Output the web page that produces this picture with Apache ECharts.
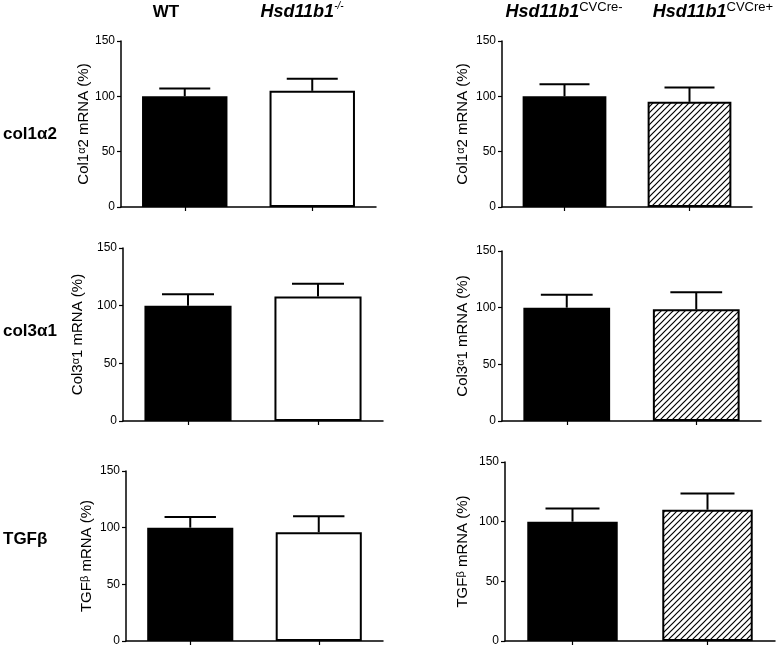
<!DOCTYPE html>
<html>
<head>
<meta charset="utf-8">
<script src="https://cdn.jsdelivr.net/npm/echarts@6/dist/echarts.min.js"></script>
<style>html,body{margin:0;padding:0;background:#fff}#c{width:778px;height:647px}</style>
</head>
<body>
<div id="c"></div>
<script>
// ---- data ----
const genes = ['col1α2', 'col3α1', 'TGFβ'];
const groupsKO = ['WT', 'Hsd11b1-/-'];
const groupsCV = ['Hsd11b1CVCre-', 'Hsd11b1CVCre+'];
const yTicks = [0, 50, 100, 150];

const col1a2KO_mean = [100, 105];
const col1a2KO_sem = [7, 11];
const col1a2CV_mean = [100, 95];
const col1a2CV_sem = [11, 13];

const col3a1KO_mean = [100, 108];
const col3a1KO_sem = [10, 11];
const col3a1CV_mean = [100, 98.5];
const col3a1CV_sem = [11.5, 15];

const tgfbKO_mean = [100, 96];
const tgfbKO_sem = [9.5, 14];
const tgfbCV_mean = [100, 110];
const tgfbCV_sem = [11, 13.5];

// ---- styling ----
const FONT = '"Liberation Sans", Arial, Helvetica, sans-serif';

function hatchCanvas() {
  const s = 6;
  const cv = document.createElement('canvas');
  cv.width = s; cv.height = s;
  const ctx = cv.getContext('2d');
  ctx.fillStyle = '#fff';
  ctx.fillRect(0, 0, s, s);
  ctx.strokeStyle = '#000';
  ctx.lineWidth = 1.2;
  ctx.beginPath();
  ctx.moveTo(-1, s + 1); ctx.lineTo(s + 1, -1);
  ctx.moveTo(-1, 1); ctx.lineTo(1, -1);
  ctx.moveTo(s - 1, s + 1); ctx.lineTo(s + 1, s - 1);
  ctx.stroke();
  return cv;
}
const hatch = { image: hatchCanvas(), repeat: 'repeat' };

const panels = [
  { mean: col1a2KO_mean, sem: col1a2KO_sem, cats: groupsKO, fills: ['#000', '#fff'],
    name: '{t|Col1}{g|α}{t|2 mRNA (%)}', grid: { left: 121, top: 41, width: 255, height: 166 }, gap: 30 },
  { mean: col1a2CV_mean, sem: col1a2CV_sem, cats: groupsCV, fills: ['#000', hatch],
    name: '{t|Col1}{g|α}{t|2 mRNA (%)}', grid: { left: 502, top: 41, width: 250, height: 166 }, gap: 32 },
  { mean: col3a1KO_mean, sem: col3a1KO_sem, cats: groupsKO, fills: ['#000', '#fff'],
    name: '{t|Col3}{g|α}{t|1 mRNA (%)}', grid: { left: 123, top: 248, width: 260, height: 173 }, gap: 38 },
  { mean: col3a1CV_mean, sem: col3a1CV_sem, cats: groupsCV, fills: ['#000', hatch],
    name: '{t|Col3}{g|α}{t|1 mRNA (%)}', grid: { left: 502, top: 251, width: 259, height: 170 }, gap: 32 },
  { mean: tgfbKO_mean, sem: tgfbKO_sem, cats: groupsKO, fills: ['#000', '#fff'],
    name: '{t|TGF}{g|β}{t| mRNA (%)}', grid: { left: 126, top: 471, width: 257, height: 170 }, gap: 32 },
  { mean: tgfbCV_mean, sem: tgfbCV_sem, cats: groupsCV, fills: ['#000', hatch],
    name: '{t|TGF}{g|β}{t| mRNA (%)}', grid: { left: 505, top: 462, width: 270, height: 179 }, gap: 35 }
];

const grids = [], xAxes = [], yAxes = [], series = [];

function renderErr(params, api) {
  const x = api.value(0), m = api.value(1), t = api.value(2);
  const p0 = api.coord([x, m]);
  const p1 = api.coord([x, t]);
  const half = api.size([1, 0])[0] * 0.2;
  return {
    type: 'group',
    children: [
      { type: 'line', shape: { x1: p0[0], y1: p0[1], x2: p1[0], y2: p1[1] }, style: { stroke: '#000', lineWidth: 2 } },
      { type: 'line', shape: { x1: p1[0] - half, y1: p1[1], x2: p1[0] + half, y2: p1[1] }, style: { stroke: '#000', lineWidth: 2 } }
    ]
  };
}

panels.forEach((p, i) => {
  grids.push(Object.assign({ containLabel: false, outerBoundsMode: 'none' }, p.grid));
  xAxes.push({
    type: 'category', gridIndex: i, data: p.cats,
    axisLine: { show: true, lineStyle: { color: '#000', width: 1.5 } },
    axisTick: { show: true, alignWithLabel: true, length: 4, lineStyle: { color: '#000', width: 1.2 } },
    axisLabel: { show: false },
    splitLine: { show: false }
  });
  yAxes.push({
    type: 'value', gridIndex: i, min: yTicks[0], max: yTicks[yTicks.length - 1], interval: yTicks[1] - yTicks[0],
    axisLine: { show: true, lineStyle: { color: '#000', width: 1.5 } },
    axisTick: { show: true, length: 4, lineStyle: { color: '#000', width: 1.2 } },
    axisLabel: { color: '#000', fontSize: 12, fontFamily: FONT, margin: 6 },
    splitLine: { show: false },
    name: p.name, nameLocation: 'middle', nameRotate: 90, nameGap: p.gap,
    nameTextStyle: {
      fontFamily: FONT, fontSize: 15,
      rich: {
        t: { fontSize: 15, fontFamily: FONT, color: '#000', verticalAlign: 'bottom' },
        g: { fontSize: 11, fontFamily: FONT, color: '#000', verticalAlign: 'top' }
      }
    }
  });
  series.push({
    type: 'bar', xAxisIndex: i, yAxisIndex: i, barWidth: '67%', silent: true,
    data: p.mean.map((v, k) => ({ value: v, itemStyle: { color: p.fills[k], borderColor: '#000', borderWidth: 2 } })),
    z: 2
  });
  series.push({
    type: 'custom', xAxisIndex: i, yAxisIndex: i, silent: true, z: 3,
    encode: { x: 0, y: [1, 2] },
    data: p.mean.map((v, k) => [k, v, v + p.sem[k]]),
    renderItem: renderErr
  });
});

function header(text, x) {
  return {
    type: 'text', x: x, y: 11, silent: true,
    style: {
      text: text, align: 'center', verticalAlign: 'middle', fill: '#000',
      rich: {
        b: { fontSize: 17, fontWeight: 'bold', fontFamily: FONT, fill: '#000', verticalAlign: 'bottom', lineHeight: 20 },
        i: { fontSize: 18, fontWeight: 'bold', fontStyle: 'italic', fontFamily: FONT, fill: '#000', verticalAlign: 'bottom', lineHeight: 20 },
        s: { fontSize: 13, fontWeight: 'normal', fontFamily: FONT, fill: '#000', verticalAlign: 'top', lineHeight: 13 },
        si: { fontSize: 10, fontWeight: 'normal', fontStyle: 'italic', fontFamily: FONT, fill: '#000', verticalAlign: 'top', lineHeight: 11 }
      }
    }
  };
}
function rowLabel(text, y) {
  return {
    type: 'text', x: 3, y: y, silent: true,
    style: { text: text, fill: '#000', font: 'bold 17px ' + FONT, verticalAlign: 'middle' }
  };
}

const graphics = [
  header('{b|' + groupsKO[0] + '}', 166),
  header('{i|Hsd11b1}{si|-/-}', 302),
  header('{i|Hsd11b1}{s|CVCre-}', 564),
  header('{i|Hsd11b1}{s|CVCre+}', 713),
  rowLabel(genes[0], 134),
  rowLabel(genes[1], 331),
  rowLabel(genes[2], 539)
];

const chart = echarts.init(document.getElementById('c'), null, { renderer: 'canvas' });
chart.setOption({
  animation: false,
  backgroundColor: '#fff',
  grid: grids, xAxis: xAxes, yAxis: yAxes, series: series,
  graphic: graphics
});
</script>
</body>
</html>
